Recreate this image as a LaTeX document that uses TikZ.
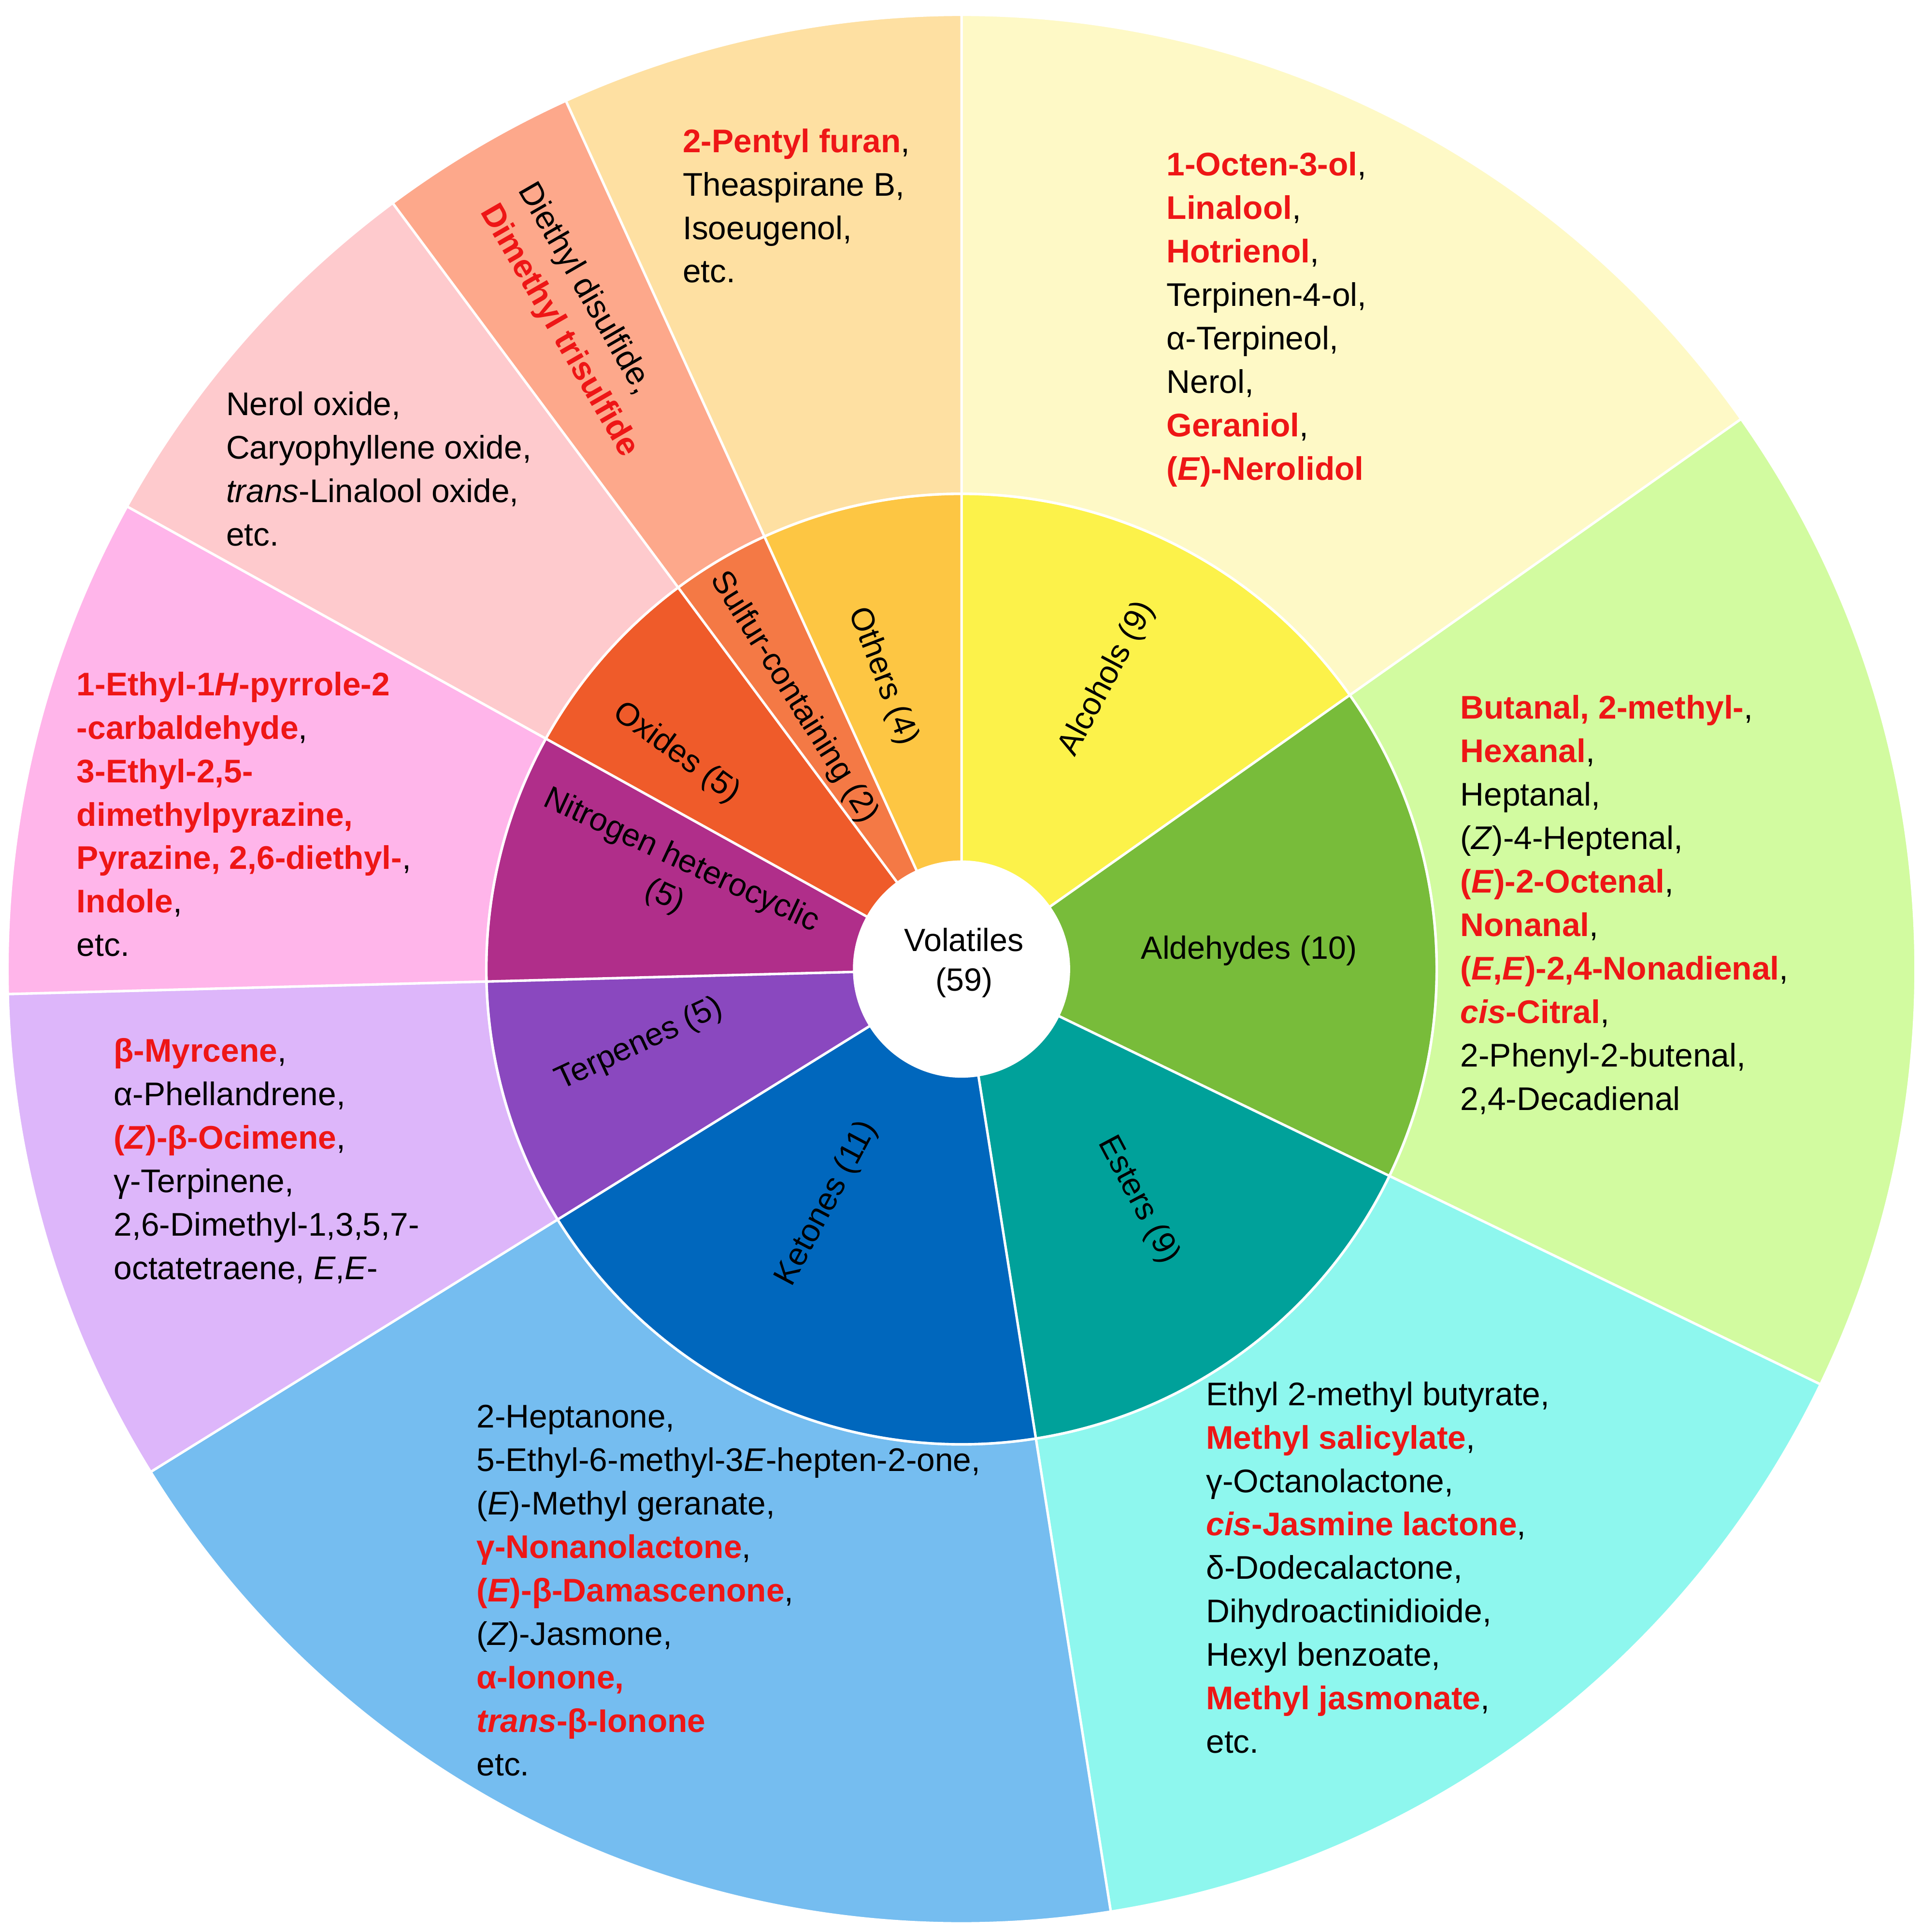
\documentclass[tikz,border=0pt]{standalone}
\usepackage{fontspec}
\setmainfont{Liberation Sans}
\begin{document}
\definecolor{rd}{RGB}{238,22,22}
\newcommand{\rd}[1]{\textcolor{rd}{\textbf{#1}}}
\newcommand{\sector}[4]{\definecolor{sc}{RGB}{#4}\fill[fill=sc,draw=white,line width=2pt] (779,780) -- ++(#1:#3) arc[start angle=#1,end angle=#2,radius=#3] -- cycle;}
\begin{tikzpicture}[x=1pt,y=1pt,
  lst/.style={anchor=north west,align=left,inner sep=0pt,font=\fontsize{26.5}{35.2}\selectfont},
  lab/.style={anchor=center,align=center,inner sep=0pt,font=\fontsize{26}{32}\selectfont}]
\useasboundingbox (0,0) rectangle (1557,1565);
% outer ring
\sector{35.2}{90}{773}{254,249,198}
\sector{-25.8}{35.2}{773}{210,251,160}
\sector{-81}{-25.8}{773}{142,247,238}
\sector{-148.2}{-81}{773}{117,189,240}
\sector{-178.5}{-148.2}{773}{221,182,250}
\sector{-209}{-178.5}{773}{255,181,234}
\sector{-233.4}{-209}{773}{254,202,205}
\sector{-245.5}{-233.4}{773}{253,168,139}
\sector{-270}{-245.5}{773}{254,224,162}
% inner ring
\sector{35.2}{90}{385}{252,242,74}
\sector{-25.8}{35.2}{385}{120,188,58}
\sector{-81}{-25.8}{385}{0,161,154}
\sector{-148.2}{-81}{385}{0,103,189}
\sector{-178.5}{-148.2}{385}{138,72,191}
\sector{-209}{-178.5}{385}{176,46,138}
\sector{-233.4}{-209}{385}{239,91,42}
\sector{-245.5}{-233.4}{385}{244,121,69}
\sector{-270}{-245.5}{385}{253,198,67}
\draw[white,line width=2pt] (779,780) circle[radius=385];
\fill[white] (779,780) circle[radius=88];
\begin{scope}[shift={(0,1565)},y=-1pt]
\node[lab] (vol) at (781,780) {Volatiles\\(59)};
\node[lab,rotate=62] (alc) at (897,550) {Alcohols (9)};
\node[lab] (ald) at (1012,770) {Aldehydes (10)};
\node[lab,rotate=-62] (est) at (922,972) {Esters (9)};
\node[lab,rotate=62] (ket) at (670,975) {Ketones (11)};
\node[lab,rotate=25] (ter) at (518,846) {Terpenes (5)};
\node[lab,rotate=-25] (nit) at (545,712) {Nitrogen heterocyclic\\(5)};
\node[lab,rotate=-36] (oxi) at (548,610) {Oxides (5)};
\node[lab,rotate=-58] (sul) at (643,565) {Sulfur-containing (2)};
\node[lab,rotate=-69] (oth) at (715,548) {Others (4)};
\node[lst] (toth) at (553,104) {\rd{2-Pentyl furan},\\Theaspirane B,\\Isoeugenol,\\etc.};
\node[lst] (talc) at (945,123) {\rd{1-Octen-3-ol},\\\rd{Linalool},\\\rd{Hotrienol},\\Terpinen-4-ol,\\α-Terpineol,\\Nerol,\\\rd{Geraniol},\\\rd{(\textit{E})-Nerolidol}};
\node[lst] (tald) at (1183,563) {\rd{Butanal, 2-methyl-},\\\rd{Hexanal},\\Heptanal,\\(\textit{Z})-4-Heptenal,\\\rd{(\textit{E})-2-Octenal},\\\rd{Nonanal},\\\rd{(\textit{E},\textit{E})-2,4-Nonadienal},\\\rd{\textit{cis}-Citral},\\2-Phenyl-2-butenal,\\2,4-Decadienal};
\node[lst] (test) at (977,1119) {Ethyl 2-methyl butyrate,\\\rd{Methyl salicylate},\\γ-Octanolactone,\\\rd{\textit{cis}-Jasmine lactone},\\δ-Dodecalactone,\\Dihydroactinidioide,\\Hexyl benzoate,\\\rd{Methyl jasmonate},\\etc.};
\node[lst] (tket) at (386,1138) {2-Heptanone,\\5-Ethyl-6-methyl-3\textit{E}-hepten-2-one,\\(\textit{E})-Methyl geranate,\\\rd{γ-Nonanolactone},\\\rd{(\textit{E})-β-Damascenone},\\(\textit{Z})-Jasmone,\\\rd{α-Ionone,}\\\rd{\textit{trans}-β-Ionone}\\etc.};
\node[lst] (tter) at (92,841) {\rd{β-Myrcene},\\α-Phellandrene,\\\rd{(\textit{Z})-β-Ocimene},\\γ-Terpinene,\\2,6-Dimethyl-1,3,5,7-\\octatetraene, \textit{E},\textit{E}-};
\node[lst] (tnit) at (62,544) {\rd{1-Ethyl-1\textit{H}-pyrrole-2}\\\rd{-carbaldehyde},\\\rd{3-Ethyl-2,5-}\\\rd{dimethylpyrazine,}\\\rd{Pyrazine, 2,6-diethyl-},\\\rd{Indole},\\etc.};
\node[lst] (toxi) at (183,317) {Nerol oxide,\\Caryophyllene oxide,\\\textit{trans}-Linalool oxide,\\etc.};
\node[lst,rotate=-60] (tsul) at (436,144) {Diethyl disulfide,\\\rd{Dimethyl trisulfide}};
\end{scope}
\end{tikzpicture}
\end{document}
